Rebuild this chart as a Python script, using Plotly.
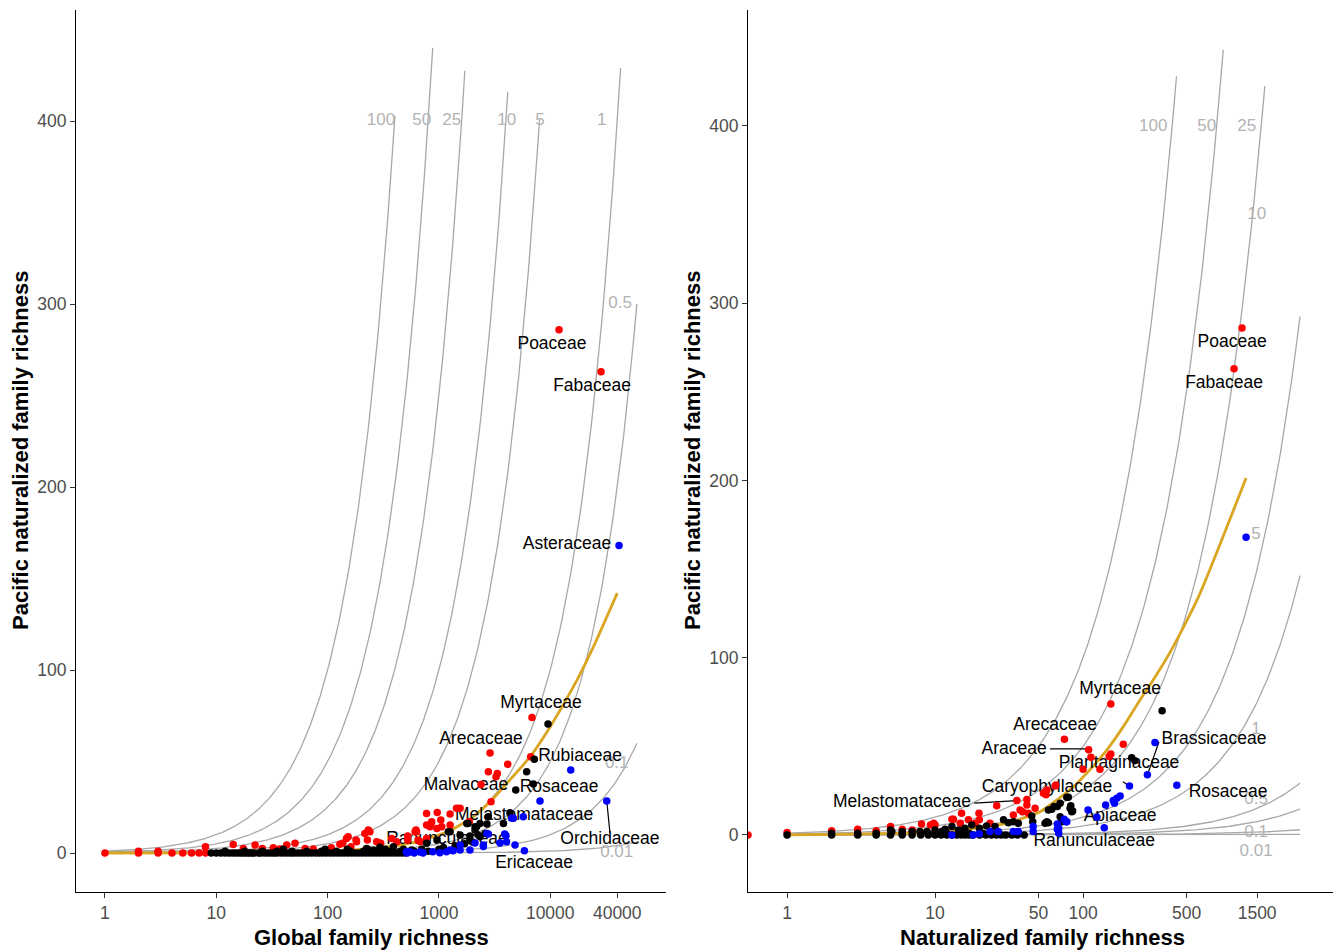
import numpy as np
import plotly.graph_objects as go

# ---------------- data: LEFT panel (global family richness) ----------------
LEFT_RED_X = [12000, 28600, 6860, 2880, 6680, 4150, 2780, 3350, 3260, 2390, 2940, 1550, 1260,
              1040, 861, 832, 1260, 1060, 622, 1875, 966, 850, 960, 610, 240, 228, 295, 525,
              650, 775, 377, 1440, 775, 775, 525, 630, 680, 418, 300, 216, 232, 180, 162, 148,
              137, 108, 74.5, 62.9, 51, 37.4, 32.5, 25.9, 17.5, 14.2, 22.3, 42.9, 8, 1, 2, 2,
              3, 3, 4, 5, 6, 7, 8, 129, 153, 182, 276]
LEFT_RED_Y = [286, 263, 74, 54.6, 52.6, 48.5, 44.4, 43.5, 41.7, 37.5, 28, 24.4, 21.3,
              18, 17.1, 14.4, 15.3, 14.4, 12.6, 17.1, 22.2, 16.2, 13.4, 11.6, 11.6, 7.1, 5.3, 7.1,
              7.1, 7.9, 7.9, 24.4, 15.3, 21.6, 9.3, 11.6, 6.1, 6.1, 5.3, 10.7, 12.6, 7.1, 3.4, 7.9,
              5.3, 2.9, 2.2, 2.5, 5.3, 2.2, 2.9, 2.5, 2.5, 4.7, 4.4, 4.4, 3.4, 0, 0, 1,
              0, 1, 0, 0, 0, 0, 0, 4.8, 8.9, 6.1, 6.1]

LEFT_BLACK_X = [9550, 7200, 6140, 7050, 4900, 4350, 3800, 2780, 2340, 2110, 1780, 1215, 1900,
                2340, 2700, 1825, 2180, 1260, 1550, 2110, 2250, 2600, 1900, 960, 775, 570, 390,
                295, 224, 258,
                9, 10, 11, 12, 13, 14, 15, 16, 17, 18, 19, 20, 21, 22, 24, 25, 27, 29, 31, 33,
                35, 38, 41, 44, 47, 50, 54, 58, 62, 67, 72, 78, 84, 90, 97, 105, 113, 122, 131,
                141, 152, 164, 177, 190, 205, 221, 238, 256, 276, 297, 320, 345, 372, 400, 430,
                463, 500,
                12, 18, 26, 35, 48, 65, 88, 120, 160, 210, 280, 350, 450, 600, 800,
                40, 95, 150, 230, 330, 480, 700, 1000, 1100, 1400, 1700, 2000]
LEFT_BLACK_Y = [70.5, 51.3, 44.4, 37.7, 34.4, 22, 16.2, 19.8, 16.2, 14.3, 16.2, 11.6, 9.3,
                8.9, 15.8, 16.2, 14.4, 11.6, 9.8, 12.6, 9.8, 10.7, 7.1, 7.1, 5.3, 1.6, 3.4,
                3.1, 2.5, 1.6,
                0, 0, 0, 0, 0, 0, 0, 0, 0, 0, 0, 0, 0, 0, 0, 0, 0, 0, 0, 0,
                0, 0, 0, 0, 0, 0, 0, 0, 0, 0, 0, 0, 0, 0, 0, 0, 0, 0, 0,
                0, 0, 0, 0, 0, 0, 0, 0, 0, 0, 0, 0, 0, 0, 0, 0,
                0, 0,
                1, 1, 1, 1, 1, 1, 1, 1, 1, 1, 1, 1, 1, 1, 1,
                2, 2, 2, 2, 2, 2, 2, 2, 3, 4, 5, 6]

LEFT_BLUE_X = [41500, 15290, 8090, 32200, 4670, 5730, 2780, 4010, 4830, 5860, 2510, 550, 676,
               880, 1020, 1170, 1340, 1550, 1900, 2110, 3540, 2700, 3900, 4060, 2510, 1550, 510,
               1260, 4500, 520, 600, 720]
LEFT_BLUE_Y = [168, 45.4, 28.4, 28.4, 19, 19.8, 10.4, 9.5, 4.4, 1.3, 3.5, 0.7, 0.5,
               0.7, 0.2, 0.7, 1.3, 1.6, 1.6, 5.5, 5.5, 10.7, 10.4, 6.1, 4.4, 4.4, 0.7,
               1.6, 19, 0, 0, 0]

LEFT_LABELS = ["Poaceae", "Fabaceae", "Asteraceae", "Myrtaceae", "Arecaceae", "Rubiaceae",
               "Malvaceae", "Rosaceae", "Melastomataceae", "Orchidaceae", "Ericaceae",
               "Ranunculaceae"]
LEFT_LABEL_X = [10380, 23750, 14150, 8260, 2390, 18530, 1750, 12000, 5820, 34400, 7160, 1183]
LEFT_LABEL_Y = [278, 255, 168.3, 81.4, 61.7, 52.5, 36.6, 35.5, 20.2, 7.1, -6, 7.1]
LEFT_SEG = [((32200, 28.4), (34400, 11))]  # Orchidaceae leader

LEFT_FIT_X = [1, 10, 100, 300, 600, 1183, 2000, 2880, 4500, 6580, 10000, 17400, 25000, 40000]
LEFT_FIT_Y = [0, 0.1, 1, 3, 5.8, 11.5, 19.5, 28, 41, 52.5, 69, 94.5, 114, 142]

LEFT_ISO_PCT = [100, 50, 25, 10, 5, 1, 0.5, 0.1, 0.01]
LEFT_ISO_XMAX = [403, 880, 1710, 4160, 8020, 42900, 60000, 60000, 60000]
LEFT_ISO_TEXT = ["100", "50", "25", "10", "5", "1", "0.5", "0.1", "0.01"]
LEFT_ISO_LX = [302, 700, 1303, 4060, 8090, 29000, 42400, 39550, 39550]
LEFT_ISO_LY = [400, 400, 400, 400, 400, 400, 300, 49, 0.2]

# ---------------- data: RIGHT panel (naturalized family richness) ----------------
RIGHT_RED_X = [1186, 1047, 154, 74.8, 109, 113, 187, 154, 150, 100, 130, 56.2, 64.7, 55.4, 26.1,
               35.7, 41.7, 37.5, 42.7, 47.4, 54, 56.9, 33.8, 19.8, 15.1, 13.3, 14.8, 16.8, 18.6,
               19.9, 23.5, 9.3, 8.1, 9.8, 39, 41.7, 65.5, 0, 1, 2, 3, 4, 5, 6, 7, 10, 13]
RIGHT_RED_Y = [286, 263, 73.9, 54, 48, 43.8, 51.2, 45.7, 44.2, 37, 37, 22.6, 27.6, 24.4, 16.5,
               19.4, 16.9, 14.1, 12.2, 15, 23.5, 25.4, 11.3, 12.2, 12.2, 8.8, 6.6, 8.5, 6.6,
               8.5, 6.6, 5.6, 6.2, 6.6, 13.1, 20, 28.2, 0, 1.3, 2.3, 3.2, 2.4, 4.7, 3.2, 2.8, 5.6, 8.8]

RIGHT_BLACK_X = [342, 213, 224, 77.6, 63.7, 67, 58.3, 82.6, 85, 70, 55.4, 58.3, 79.5, 70, 61.4,
                 81.7, 83.9, 45, 45.7, 56.9, 71.7, 29, 31.3, 33.8, 36.5, 25.4, 22.3, 19.9, 17.7,
                 15.9, 14.4, 13, 11.7, 11.1, 10, 8.8, 7.9, 7, 6, 5.1, 5,
                 1, 2, 3, 4, 5, 6, 7, 8, 9, 10, 11, 12, 13, 14, 15, 16, 17, 18, 20, 22, 24, 26,
                 28, 30, 33, 36, 40,
                 2, 3, 4, 6, 8, 9, 12, 15, 17, 21, 24, 27]
RIGHT_BLACK_Y = [70, 43.6, 41.9, 21.3, 16, 16, 14.1, 16.4, 13.5, 10.3, 6.6, 6.9, 21.3, 17.9, 14.5,
                 15, 13.1, 10.7, 7.5, 7.5, 7.5, 8.5, 6.9, 7.5, 6.6, 4.7, 5.1, 3.8, 5.6,
                 3.8, 2.8, 4.7, 3.2, 1.9, 2.8, 1.9, 1.9, 1.9, 1.9, 1.9, 2.8,
                 0, 0, 0, 0, 0, 0, 0, 0, 0, 0, 0, 0, 0, 0, 0, 0, 0, 0, 0, 0, 0, 0,
                 0, 0, 0, 0, 0,
                 1, 1, 1, 1, 1, 1, 1, 1, 1, 1, 1, 1]

RIGHT_BLUE_X = [1263, 306, 272, 206, 430, 178, 169, 160, 163, 142, 108, 124, 139, 76.7, 74.5,
                67, 67, 68.5, 13, 18.1, 19.9, 23.5, 26.7, 33.8, 36.5, 46, 46, 68.5, 77.6]
RIGHT_BLUE_Y = [168, 52.1, 33.9, 27.6, 28, 22, 20.7, 19.4, 17.9, 16.9, 14.1, 10, 4.1, 7.5, 8.8,
                6.2, 3.2, 1, 0, 0, 0.6, 1.9, 1.9, 1.9, 1.9, 4.7, 1.9, 3.8, 7.5]

RIGHT_LABELS = ["Poaceae", "Fabaceae", "Myrtaceae", "Arecaceae", "Araceae", "Brassicaceae",
                "Plantaginaceae", "Caryophyllaceae", "Melastomataceae", "Rosaceae", "Apiaceae",
                "Ranunculaceae"]
RIGHT_LABEL_X = [1016, 897, 178, 64.7, 34.2, 767, 175, 57.1, 5.98, 955, 178, 119]
RIGHT_LABEL_Y = [277.6, 254.4, 81.8, 61.5, 48, 53.6, 40, 26.5, 18, 23.7, 10.2, -4]
RIGHT_SEG = [((59.8, 48.5), (108, 48.5)),      # Araceae
             ((326, 52.6), (273, 34.2)),       # Brassicaceae
             ((186, 30), (205, 27.6)),         # Plantaginaceae
             ((18.4, 17.9), (35.7, 19.4))]     # Melastomataceae

RIGHT_FIT_X = [1, 3, 12, 30.6, 51.2, 66.4, 86, 111, 145, 187, 243, 306, 387, 598, 1263]
RIGHT_FIT_Y = [0, 0.5, 1.9, 6.6, 13.1, 19.7, 27.2, 36.7, 48, 61.1, 76.2, 89, 103, 133.7, 201.4]

RIGHT_ISO_PCT = [100, 50, 25, 10, 5, 1, 0.5, 0.1, 0.01]
RIGHT_ISO_XMAX = [428, 886, 1690, 2925, 2925, 2925, 2925, 2925, 2925]
RIGHT_ISO_TEXT = ["100", "50", "25", "10", "5", "1", "0.5", "0.1", "0.01"]
RIGHT_ISO_LX = [298, 685, 1277, 1492, 1476, 1476, 1476, 1476, 1476]
RIGHT_ISO_LY = [399.3, 399.3, 399.3, 349.8, 169.6, 59.6, 20.1, 1, -9.4]

LEFT_XTICKS = [1, 10, 100, 1000, 10000, 40000]
RIGHT_XTICKS = [1, 10, 50, 100, 500, 1500]
YTICKS = [0, 100, 200, 300, 400]

# ---------------- layout constants ----------------
W, H = 1341, 951
OFF = 8  # page body margin in the browser
FONT = "Liberation Sans, Arial, Helvetica, sans-serif"
LEFT_XR = [-0.26, 5.04]
RIGHT_XR = [-0.264, 3.709]
LEFT_YR = [-21.3, 460.7]
RIGHT_YR = [-32.2, 465.4]


def px(v):
    return (v - OFF) / W


def py(v):
    return 1 - (v - OFF) / H


fig = go.Figure()


def add_panel(xa, ya, iso_pct, iso_xmax, iso_text, iso_lx, iso_ly, fit_x, fit_y,
              labels, lab_x, lab_y, segs, red, black, blue, xr):
    for p, xm in zip(iso_pct, iso_xmax):
        xs = np.logspace(0, np.log10(xm), 300)
        fig.add_trace(go.Scatter(x=xs, y=xs * p / 100.0, mode="lines",
                                 line=dict(color="#a8a8a8", width=1.3),
                                 xaxis=xa, yaxis=ya, hoverinfo="skip", showlegend=False))
    fig.add_trace(go.Scatter(x=iso_lx, y=iso_ly, text=iso_text, mode="text",
                             textfont=dict(family=FONT, size=17, color="#b3b3b3"),
                             xaxis=xa, yaxis=ya, showlegend=False, hoverinfo="skip"))
    fig.add_trace(go.Scatter(x=fit_x, y=fit_y, mode="lines",
                             line=dict(color="#DAA520", width=2.8, shape="spline", smoothing=0.6),
                             xaxis=xa, yaxis=ya, hoverinfo="skip", showlegend=False))
    # family labels (drawn below points, as in the original)
    fig.add_trace(go.Scatter(x=lab_x, y=lab_y, text=labels, mode="text",
                             textfont=dict(family=FONT, size=17.5, color="black"),
                             xaxis=xa, yaxis=ya, showlegend=False, hoverinfo="skip"))
    for (a, b) in segs:
        fig.add_trace(go.Scatter(x=[a[0], b[0]], y=[a[1], b[1]], mode="lines",
                                 line=dict(color="black", width=1.2),
                                 xaxis=xa, yaxis=ya, showlegend=False, hoverinfo="skip"))
    xmin = 10 ** xr[0]
    for (xx, yy), col in zip([red, black, blue], ["#ff0000", "#000000", "#0000ff"]):
        xx = [v if v > 0 else xmin for v in xx]  # zero drawn at panel edge (-Inf)
        fig.add_trace(go.Scatter(x=xx, y=yy, mode="markers",
                                 marker=dict(color=col, size=7.5, line=dict(width=0)),
                                 xaxis=xa, yaxis=ya, showlegend=False, cliponaxis=True))


add_panel("x", "y", LEFT_ISO_PCT, LEFT_ISO_XMAX, LEFT_ISO_TEXT, LEFT_ISO_LX, LEFT_ISO_LY,
          LEFT_FIT_X, LEFT_FIT_Y, LEFT_LABELS, LEFT_LABEL_X, LEFT_LABEL_Y, LEFT_SEG,
          (LEFT_RED_X, LEFT_RED_Y), (LEFT_BLACK_X, LEFT_BLACK_Y), (LEFT_BLUE_X, LEFT_BLUE_Y),
          LEFT_XR)
add_panel("x2", "y2", RIGHT_ISO_PCT, RIGHT_ISO_XMAX, RIGHT_ISO_TEXT, RIGHT_ISO_LX, RIGHT_ISO_LY,
          RIGHT_FIT_X, RIGHT_FIT_Y, RIGHT_LABELS, RIGHT_LABEL_X, RIGHT_LABEL_Y, RIGHT_SEG,
          (RIGHT_RED_X, RIGHT_RED_Y), (RIGHT_BLACK_X, RIGHT_BLACK_Y), (RIGHT_BLUE_X, RIGHT_BLUE_Y),
          RIGHT_XR)

axis_common = dict(showgrid=False, zeroline=False, showline=True, linecolor="black",
                   linewidth=1.2, ticks="outside", ticklen=5, tickwidth=1.1, tickcolor="#333333",
                   tickfont=dict(family=FONT, size=17.5, color="#4d4d4d"))

ydom = [py(892), py(10)]
fig.update_layout(
    width=W, height=H, margin=dict(l=0, r=0, t=0, b=0),
    plot_bgcolor="white", paper_bgcolor="white", showlegend=False,
    xaxis=dict(type="log", range=LEFT_XR, domain=[px(76), px(666)], anchor="y",
               tickvals=LEFT_XTICKS, ticktext=[str(v) for v in LEFT_XTICKS], **axis_common),
    yaxis=dict(range=LEFT_YR, domain=ydom, anchor="x", tickvals=YTICKS, **axis_common),
    xaxis2=dict(type="log", range=RIGHT_XR, domain=[px(748), px(1336)], anchor="y2",
                tickvals=RIGHT_XTICKS, ticktext=[str(v) for v in RIGHT_XTICKS], **axis_common),
    yaxis2=dict(range=RIGHT_YR, domain=ydom, anchor="x2", tickvals=YTICKS, **axis_common),
)

title_font = dict(family=FONT, size=22, color="black")
ann = [
    dict(text="<b>Global family richness</b>", x=px(371), y=py(937)),
    dict(text="<b>Naturalized family richness</b>", x=px(1042), y=py(937)),
    dict(text="<b>Pacific naturalized family richness</b>", x=px(20), y=py(451), textangle=-90),
    dict(text="<b>Pacific naturalized family richness</b>", x=px(692), y=py(451), textangle=-90),
]
for a in ann:
    fig.add_annotation(xref="paper", yref="paper", showarrow=False, xanchor="center",
                       yanchor="middle", font=title_font, **a)

fig.write_html("out.html")
